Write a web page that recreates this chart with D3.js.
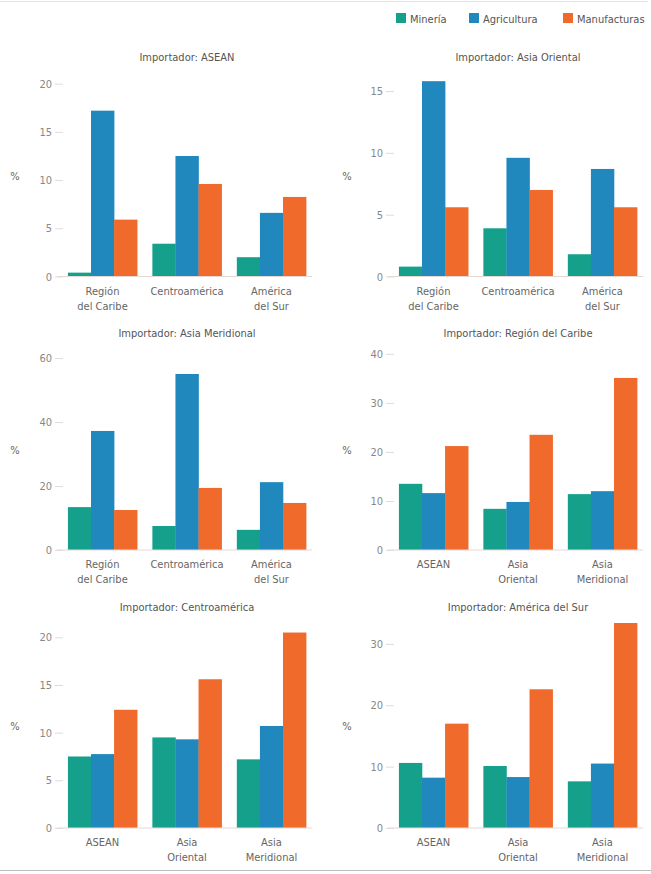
<!DOCTYPE html>
<html><head><meta charset="utf-8">
<script src="https://cdn.jsdelivr.net/npm/d3@7"></script>
<style>
html,body{margin:0;padding:0;background:#fff;}
svg text{font-family:"DejaVu Sans Condensed","DejaVu Sans",sans-serif;font-stretch:condensed;}
</style></head>
<body><div id="chart"></div>
<script>
const series = ["Minería", "Agricultura", "Manufacturas"];
const colors = ["#15a08c", "#2088bc", "#ef6a2b"];
const importers = ["ASEAN", "Asia Oriental", "Asia Meridional", "Región del Caribe", "Centroamérica", "América del Sur"];
const latamExporters = [["Región", "del Caribe"], ["Centroamérica"], ["América", "del Sur"]];
const asiaExporters = [["ASEAN"], ["Asia", "Oriental"], ["Asia", "Meridional"]];
const panelCategories = [latamExporters, latamExporters, latamExporters, asiaExporters, asiaExporters, asiaExporters];
const mineria = [[0.4, 3.4, 2.0], [0.8, 3.9, 1.8], [13.4, 7.5, 6.3], [13.5, 8.4, 11.4], [7.5, 9.5, 7.2], [10.6, 10.1, 7.6]];
const agricultura = [[17.2, 12.5, 6.6], [15.8, 9.6, 8.7], [37.2, 55.0, 21.2], [11.6, 9.8, 12.0], [7.75, 9.3, 10.7], [8.2, 8.3, 10.5]];
const manufacturas = [[5.9, 9.6, 8.25], [5.6, 7.0, 5.6], [12.5, 19.4, 14.7], [21.2, 23.5, 35.1], [12.4, 15.6, 20.5], [17.0, 22.6, 33.4]];
const yTicks = [[0, 5, 10, 15, 20], [0, 5, 10, 15], [0, 20, 40, 60], [0, 10, 20, 30, 40], [0, 5, 10, 15, 20], [0, 10, 20, 30]];
const yMax = [20.9, 16.3, 62.5, 40.8, 21.5, 33.4];

const W = 651, H = 874;
const FS = 11;
const svg = d3.select("#chart").append("svg").attr("width", W).attr("height", H);

// frame lines
svg.append("line").attr("x1", 0).attr("x2", 648).attr("y1", 1.5).attr("y2", 1.5).attr("stroke", "#e4e4e4");
svg.append("line").attr("x1", 0).attr("x2", W).attr("y1", 870.5).attr("y2", 870.5).attr("stroke", "#bbb");

// legend
const legendX = [396, 469, 563];
series.forEach((s, i) => {
  const g = svg.append("g").attr("transform", `translate(${legendX[i]},13)`);
  g.append("rect").attr("width", 10).attr("height", 10).attr("fill", colors[i]);
  g.append("text").attr("x", 14).attr("y", 9.5).attr("font-size", FS).attr("fill", "#555").text(s);
});

const cols = [{x0: 62, x1: 312, pct: 15}, {x0: 393, x1: 643, pct: 347}];
const rows = [{top: 75, base: 276.5, title: 61}, {top: 350, base: 550, title: 337}, {top: 623, base: 828, title: 611}];

importers.forEach((imp, p) => {
  const col = cols[p % 2], row = rows[Math.floor(p / 2)];
  const g = svg.append("g");
  const x = d3.scaleBand().domain([0, 1, 2]).range([col.x0, col.x1]).paddingInner(0.18).paddingOuter(0.07);
  const xs = d3.scaleBand().domain([0, 1, 2]).range([0, x.bandwidth()]);
  const y = d3.scaleLinear().domain([0, yMax[p]]).range([row.base, row.top]);

  g.append("text").attr("x", (col.x0 + col.x1) / 2).attr("y", row.title)
    .attr("text-anchor", "middle").attr("font-size", FS).attr("fill", "#555")
    .text("Importador: " + imp);

  g.append("text").attr("x", col.pct).attr("y", (row.top + row.base) / 2 + 4)
    .attr("text-anchor", "middle").attr("font-size", FS).attr("fill", "#666").text("%");

  // y axis
  const ax = g.append("g").attr("transform", `translate(${col.x0 + 1},0)`)
    .call(d3.axisLeft(y).tickValues(yTicks[p]).tickSize(8).tickPadding(3).tickFormat(d3.format("d")));
  ax.select(".domain").remove();
  ax.selectAll(".tick line").attr("stroke", "#ddd");
  ax.selectAll(".tick text").attr("fill", "#888").attr("font-size", FS)
    .style("font-family", '"DejaVu Sans Condensed","DejaVu Sans",sans-serif').style("font-stretch", "condensed");

  const data = [mineria[p], agricultura[p], manufacturas[p]];
  [0, 1, 2].forEach(c => {
    data.forEach((vals, s) => {
      g.append("rect")
        .attr("x", x(c) + xs(s)).attr("width", xs.bandwidth() + 0.3)
        .attr("y", y(vals[c])).attr("height", y(0) - y(vals[c]))
        .attr("fill", colors[s]);
    });
    const lines = panelCategories[p][c];
    lines.forEach((t, k) => {
      g.append("text").attr("x", x(c) + x.bandwidth() / 2).attr("y", row.base + 18 + k * 15)
        .attr("text-anchor", "middle").attr("font-size", FS).attr("fill", "#666").text(t);
    });
  });

  g.append("line").attr("x1", col.x0 - 5).attr("x2", col.x1).attr("y1", y(0)).attr("y2", y(0))
    .attr("stroke", "#e8d8d4").attr("stroke-width", 1);
});
</script>
</body></html>
